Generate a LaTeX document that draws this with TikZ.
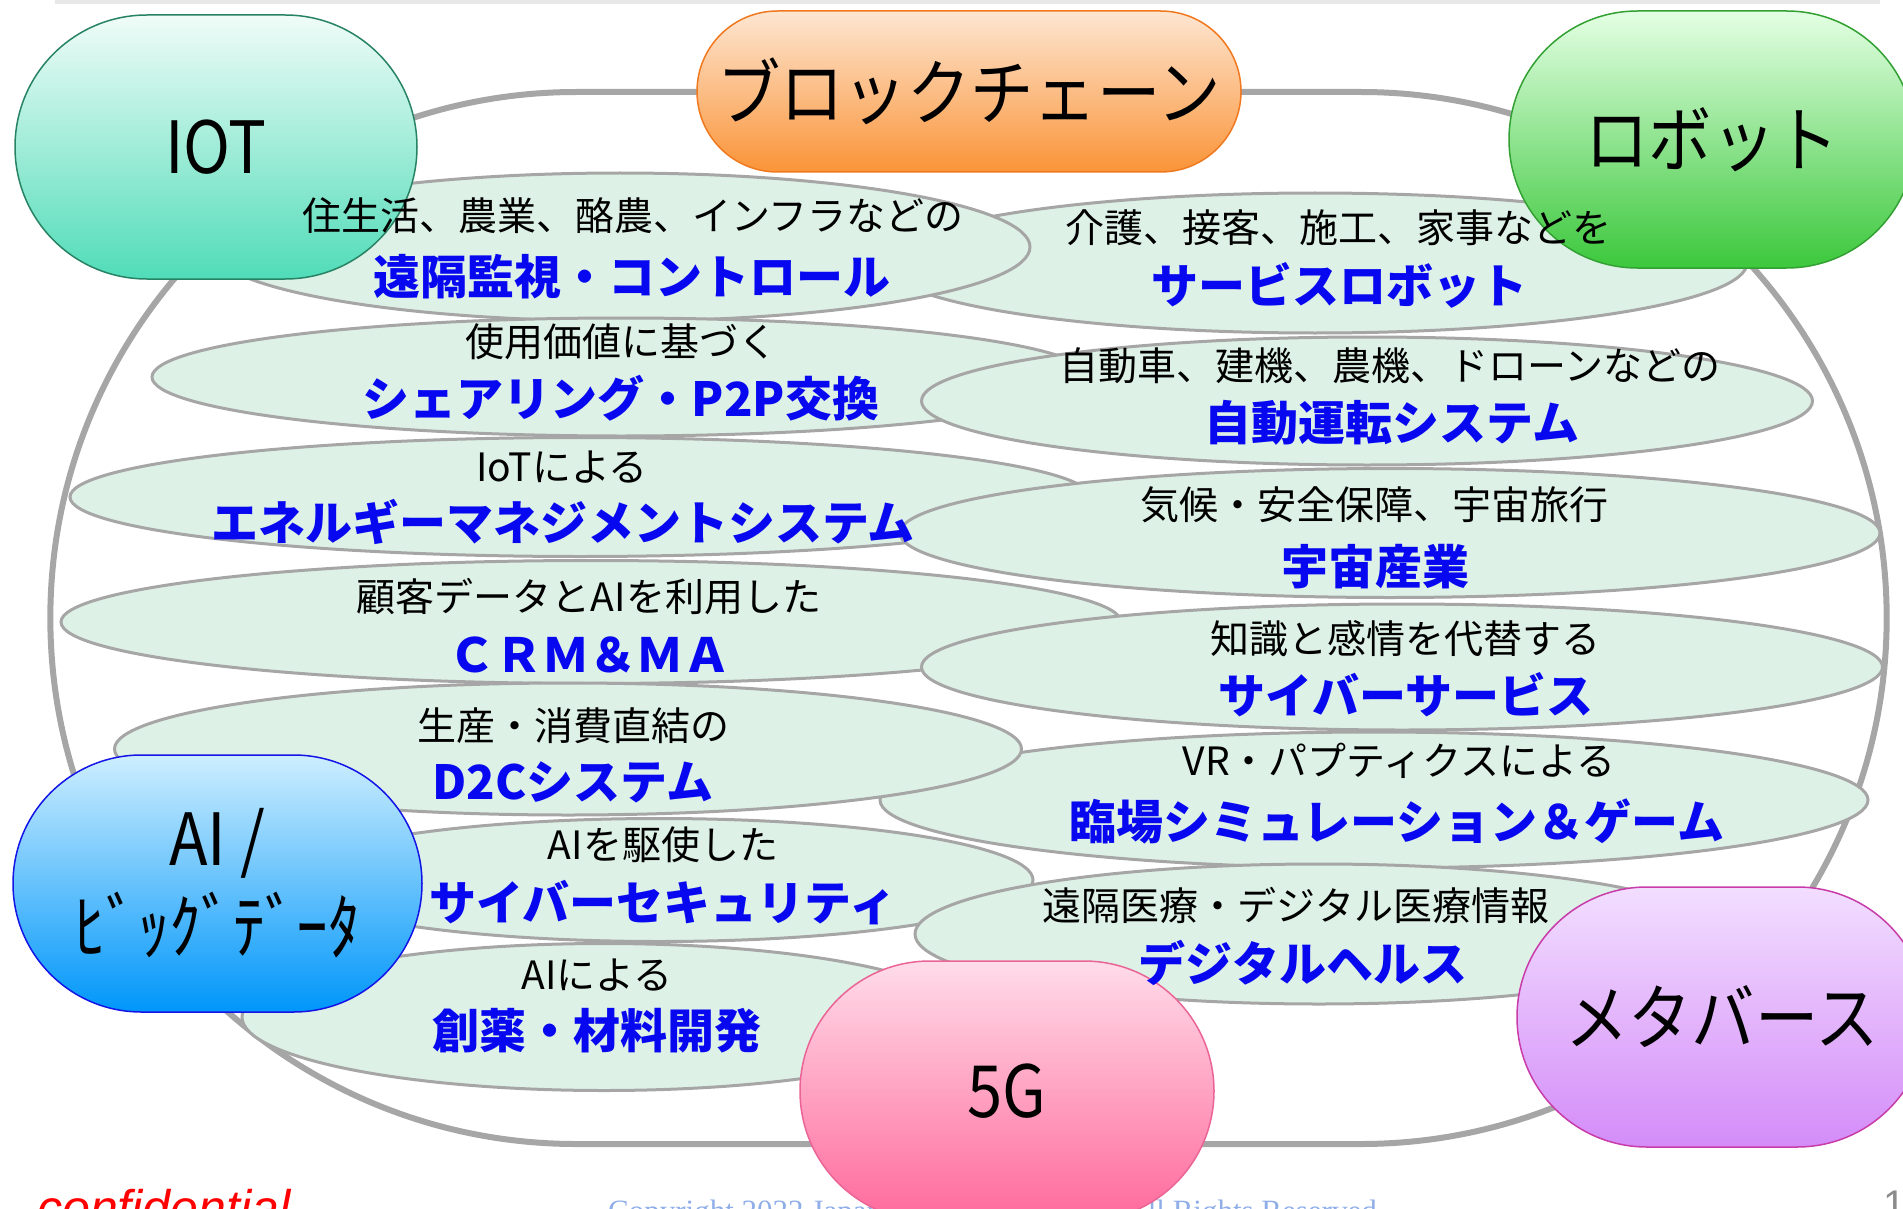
\documentclass[tikz,border=0pt]{standalone}
\usepackage{fontspec}
\usepackage{tikz}
\usetikzlibrary{shapes,positioning}
\newfontfamily\jp{Noto Sans CJK JP}
\newfontfamily\hubjp[FakeStretch=0.88]{Noto Sans CJK JP}
\newfontfamily\footsans{Liberation Sans}
\newfontfamily\footserif{Liberation Serif}
\usepackage{xcolor}
\definecolor{ringgray}{RGB}{166,166,166}
\definecolor{topbar}{RGB}{232,232,232}
\definecolor{fieldfill}{RGB}{222,241,231}
\definecolor{keyblue}{RGB}{8,8,240}
\definecolor{iottop}{RGB}{240,252,248}
\definecolor{iotbot}{RGB}{80,220,184}
\definecolor{iotline}{RGB}{40,130,100}
\definecolor{chaintop}{RGB}{253,230,210}
\definecolor{chainbot}{RGB}{250,148,56}
\definecolor{chainline}{RGB}{240,120,30}
\definecolor{robottop}{RGB}{228,255,228}
\definecolor{robotbot}{RGB}{60,200,60}
\definecolor{robotline}{RGB}{50,160,50}
\definecolor{aitop}{RGB}{205,238,254}
\definecolor{aibot}{RGB}{0,150,250}
\definecolor{ailine}{RGB}{20,20,230}
\definecolor{fivegtop}{RGB}{255,220,233}
\definecolor{fivegbot}{RGB}{255,105,155}
\definecolor{fivegline}{RGB}{235,100,150}
\definecolor{metatop}{RGB}{242,222,255}
\definecolor{metabot}{RGB}{212,140,248}
\definecolor{metaline}{RGB}{200,60,170}
\definecolor{copyblue}{RGB}{143,174,232}
\definecolor{pagegray}{RGB}{140,140,140}
\tikzstyle{ring} = [rounded rectangle, draw=ringgray, line width=6pt, minimum width=1843pt, minimum height=1052pt]
\tikzstyle{field} = [ellipse, draw=ringgray, fill=fieldfill, line width=3pt, inner sep=0pt]
\tikzstyle{hub} = [rounded rectangle, line width=1.5pt, inner sep=0pt, font=\hubjp\fontsize{72}{88}\selectfont, align=center]
\tikzstyle{lead} = [font=\jp\fontsize{39}{41}\selectfont, inner sep=0pt]
\tikzstyle{key} = [font=\jp\bfseries\fontsize{47}{49}\selectfont, text=keyblue, inner sep=0pt]

\begin{document}
\begin{tikzpicture}[x=1pt, y=-1pt]
\useasboundingbox (0,0) rectangle (1903,1209);
\fill[topbar] (55,0) rectangle (1880,4);

% Frame
\node[ring] (frame) at (968.5,618) {};

% Fields
\node[field, minimum width=864pt, minimum height=140pt] (service) at (1315,263) {};
\node[field, minimum width=820pt, minimum height=148pt] (remote) at (620,247) {};
\node[field, minimum width=938pt, minimum height=118pt] (sharing) at (621,377) {};
\node[field, minimum width=891pt, minimum height=128pt] (autodrive) at (1367,401) {};
\node[field, minimum width=1020pt, minimum height=119pt] (energy) at (580,497) {};
\node[field, minimum width=980pt, minimum height=129pt] (space) at (1390,533) {};
\node[field, minimum width=1060pt, minimum height=123pt] (crm) at (591,622) {};
\node[field, minimum width=961pt, minimum height=126pt] (cyberserv) at (1402,667) {};
\node[field, minimum width=988pt, minimum height=136pt] (immersive) at (1374,800) {};
\node[field, minimum width=907pt, minimum height=132pt] (dtc) at (568,749) {};
\node[field, minimum width=748pt, minimum height=123pt] (cyber) at (659,880) {};
\node[field, minimum width=724pt, minimum height=147pt] (drug) at (604,1017) {};
\node[field, minimum width=808pt, minimum height=140pt] (health) at (1319,934) {};

% Footer
\node[anchor=base west, inner sep=0pt, text=red, font=\footsans\itshape\fontsize{50}{56}\selectfont] (conf) at (37,1225) {confidential};
\node[anchor=base west, inner sep=0pt, text=copyblue, font=\footserif\fontsize{31}{34}\selectfont] (copyl) at (608,1221) {Copyright 2022 Japan};
\node[anchor=base east, inner sep=0pt, text=copyblue, font=\footserif\fontsize{31}{34}\selectfont] (copyr) at (1377,1221) {All Rights Reserved};
\node[anchor=base west, inner sep=0pt, text=pagegray, font=\footsans\fontsize{40}{44}\selectfont] (page) at (1883,1218) {10};

% Hubs
\node[hub, top color=iottop, bottom color=iotbot, draw=iotline, minimum width=402pt, minimum height=264pt] (iot) at (216,147) {IOT};
\node[hub, top color=chaintop, bottom color=chainbot, draw=chainline, minimum width=544pt, minimum height=161pt] (chain) at (969,91.5) {ブロックチェーン};
\node[hub, top color=robottop, bottom color=robotbot, draw=robotline, minimum width=406pt, minimum height=257pt] (robot) at (1712,139.5) {ロボット};
\node[hub, top color=aitop, bottom color=aibot, draw=ailine, minimum width=409pt, minimum height=257pt] (ai) at (217.5,883.5) {AI /\\ﾋﾞｯｸﾞﾃﾞｰﾀ};
\node[hub, top color=fivegtop, bottom color=fivegbot, draw=fivegline, minimum width=414pt, minimum height=260pt] (fiveg) at (1007,1091) {5G};
\node[hub, top color=metatop, bottom color=metabot, draw=metaline, minimum width=410pt, minimum height=260pt] (meta) at (1722,1017) {メタバース};

% Texts, left
\node[lead] (remotelbl) at (633,216) {住生活、農業、酪農、インフラなどの};
\node[key] (remotekey) at (632,277) {遠隔監視・コントロール};
\node[lead] (sharinglbl) at (621,342) {使用価値に基づく};
\node[key] (sharingkey) at (621,398) {シェアリング・P2P交換};
\node[lead] (energylbl) at (562,467) {IoTによる};
\node[key] (energykey) at (563,522) {エネルギーマネジメントシステム};
\node[lead] (crmlbl) at (589,597) {顧客データとAIを利用した};
\node[key] (crmkey) at (589,655) {ＣＲＭ＆ＭＡ};
\node[lead] (dtclbl) at (573,726) {生産・消費直結の};
\node[key] (dtckey) at (573,782) {D2Cシステム};
\node[lead] (cyberlbl) at (663,845) {AIを駆使した};
\node[key] (cyberkey) at (663,903) {サイバーセキュリティ};
\node[lead] (druglbl) at (597,975) {AIによる};
\node[key] (drugkey) at (597,1031) {創薬・材料開発};

% Texts, right
\node[lead] (servicelbl) at (1338,228) {介護、接客、施工、家事などを};
\node[key] (servicekey) at (1339,285) {サービスロボット};
\node[lead] (autodrivelbl) at (1390,366) {自動車、建機、農機、ドローンなどの};
\node[key] (autodrivekey) at (1392,423) {自動運転システム};
\node[lead] (spacelbl) at (1374,505) {気候・安全保障、宇宙旅行};
\node[key] (spacekey) at (1375,567) {宇宙産業};
\node[lead] (cyberservlbl) at (1405,639) {知識と感情を代替する};
\node[key] (cyberservkey) at (1406,695) {サイバーサービス};
\node[lead] (immersivelbl) at (1399,761) {VR・パプティクスによる};
\node[key] (immersivekey) at (1397,821) {臨場シミュレーション＆ゲーム};
\node[lead] (healthlbl) at (1296,905) {遠隔医療・デジタル医療情報};
\node[key] (healthkey) at (1303,963) {デジタルヘルス};
\end{tikzpicture}
\end{document}
